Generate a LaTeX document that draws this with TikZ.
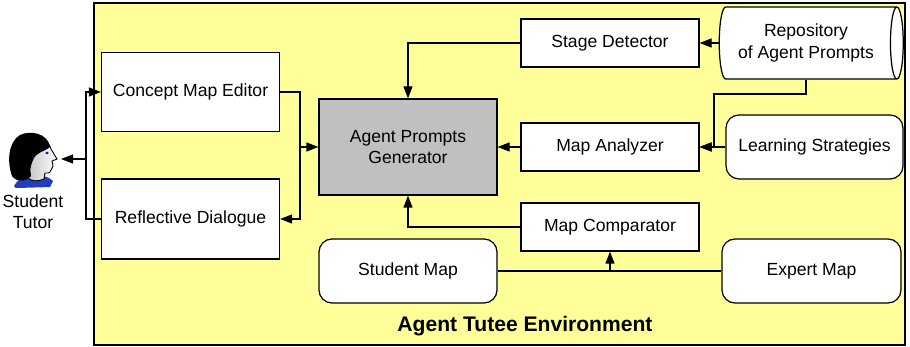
\documentclass[tikz,border=0pt]{standalone}
\usepackage{fontspec}
\setmainfont{Liberation Sans}
\usepackage{tikz}
\usetikzlibrary{arrows}
\usetikzlibrary{arrows.meta,positioning,calc,shapes.geometric}
\definecolor{envyellow}{HTML}{FFFF99}
\definecolor{gengray}{HTML}{C0C0C0}
\definecolor{collarblue}{HTML}{1F3FBF}

\begin{document}
\begin{tikzpicture}[>={Triangle[length=0.24cm,width=0.18cm]}, line width=0.7pt,
        box/.style={draw, fill=white, minimum width=3.56cm, minimum height=0.96cm, align=center},
        softbox/.style={box, rounded corners=0.26cm, minimum height=1.28cm}]
        \useasboundingbox (0,0) rectangle (18.2,-6.94);
        % environment frame
        \draw[fill=envyellow] (1.88,-0.06) rectangle (18.10,-6.90);
        \node[font=\fontsize{12}{14}\selectfont\bfseries] (env) at (10.50,-6.52) {Agent Tutee Environment};

        \node[box, minimum height=1.58cm] (cme) at (3.81,-1.84) {Concept Map Editor};
        \node[box, minimum height=1.60cm] (rd) at (3.81,-4.38) {Reflective Dialogue};
        \node[box, fill=gengray, minimum height=1.92cm] (apg) at (8.16,-2.94) {Agent Prompts\\Generator};
        \node[box] (stage) at (12.20,-0.86) {Stage Detector};
        \node[box] (analyzer) at (12.20,-2.94) {Map Analyzer};
        \node[box] (comparator) at (12.20,-4.54) {Map Comparator};
        \node[softbox] (smap) at (8.16,-5.42) {Student Map};
        \node[softbox, minimum width=3.58cm] (emap) at (16.23,-5.42) {Expert Map};
        \node[softbox, minimum width=3.54cm] (strategies) at (16.29,-2.94) {Learning Strategies};
        \node[draw, fill=white, cylinder, aspect=0.26, minimum height=3.68cm, minimum width=1.44cm,
              align=center] (repo) at (16.12,-0.86) {Repository\\of Agent Prompts};

        % the student tutor
        \begin{scope}[x=0.02cm, y=-0.02cm]
            \fill[collarblue] (14,186) .. controls (18,180) .. (26,177) -- (42,176)
                .. controls (48,177) .. (53,181) -- (50,187) -- (16,188) -- cycle;
            \shade[left color=gray!45, right color=white, draw=black, line width=0.5pt]
                (30,141) .. controls (42,138) and (49,141) .. (51,149) -- (57,159) -- (52,161)
                -- (53,166) -- (51,170) .. controls (50,173) .. (45,173) -- (44,179)
                .. controls (38,182) and (31,181) .. (28,178) -- cycle;
            \fill[black] (50,147) .. controls (48,133) and (30,130) .. (20,135)
                .. controls (8,142) and (7,162) .. (12,176)
                .. controls (16,182) and (26,182) .. (31,176)
                .. controls (30,168) .. (33,160)
                .. controls (36,152) and (44,152) .. cycle;
            \fill[blue] (47,153) ellipse (1.8 and 1.3);
            \draw[line width=0.5pt] (44,174) -- (44,179);
        \end{scope}
        \coordinate (nose) at (1.22,-3.18);
        \node[align=center] (tutor) at (0.66,-4.24) {Student\\Tutor};

        % connectors
        \draw[->] (stage.west) -| (apg.north);
        \draw[->] (repo.west) -- (stage.east);
        \coordinate (bend) at (14.28,-1.88);
        \draw[->] (repo.south) |- (bend) |- (analyzer.east);
        \draw[->] (strategies.west) -- (analyzer.east);
        \draw[->] (analyzer.west) -- (apg.east);
        \draw[->] (comparator.west) -| (apg.south);
        \draw (smap.east) -- (emap.west);
        \coordinate (join) at (comparator.south |- smap.east);
        \draw[->] (join) -- (comparator.south);
        \coordinate (rbus) at (6.0,-2.94);
        \draw[->] (cme.east) -| (rbus) |- (rd.east);
        \draw[->] (rbus) -- (apg.west);
        \coordinate (lbus) at (1.72,-3.18);
        \draw[->] (rd.west) -| (lbus) |- (cme.west);
        \draw[->] (lbus) -- (nose);
\end{tikzpicture}
\end{document}
